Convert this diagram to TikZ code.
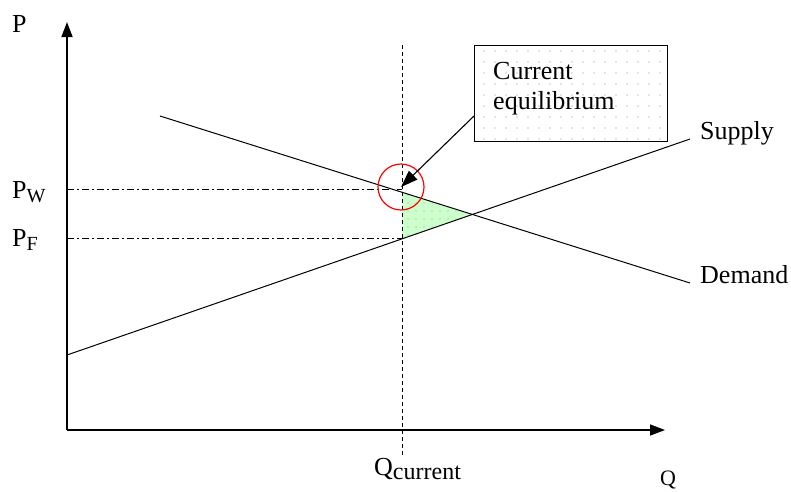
\documentclass[tikz,border=0pt]{standalone}
\usepackage{fontspec}
\setmainfont{Liberation Serif}
\newfontfamily\labfont{Liberation Serif}
\usetikzlibrary{arrows.meta}
\usetikzlibrary{patterns.meta}
\usetikzlibrary{positioning}
\definecolor{lightgreen}{RGB}{204,255,204}
\definecolor{eqred}{RGB}{255,0,0}
\tikzset{
 axis/.style={line width=1.5pt,-{Triangle[length=15pt,width=11pt]}},
 curve/.style={line width=1pt},
 guide/.style={line width=0.9pt,dash pattern=on 7pt off 3pt on 2pt off 3pt},
 lab/.style={font=\labfont\fontsize{26}{28}\selectfont,inner sep=0pt},
 pointer/.style={line width=1.1pt,-{Triangle[length=17pt,width=12pt]}},
}
\newcommand{\lowsub}[3]{\raisebox{-#1pt}{\labfont\fontsize{#2}{#2}\selectfont #3}}

\begin{document}
\begin{tikzpicture}[x=1pt,y=-1pt]
\useasboundingbox (0,0) rectangle (791,491);
% axes
\coordinate (O) at (67,430);
\coordinate (ytip) at (67,22);
\coordinate (xtip) at (665,430);
\coordinate (D1) at (160,116);
\coordinate (D2) at (690,283);
\coordinate (S1) at (67,355);
\coordinate (S2) at (690,139);
\coordinate (Qtop) at (402,45);
\coordinate (Qbot) at (402,455);
\coordinate (E) at (intersection of D1--D2 and S1--S2);
\coordinate (Dq) at (intersection of D1--D2 and Qtop--Qbot);
\coordinate (Sq) at (intersection of S1--S2 and Qtop--Qbot);

% gain triangle
\fill[lightgreen] (Dq) -- (E) -- (Sq) -- cycle;
\fill[pattern={Dots[distance=8pt,radius=0.6pt]},pattern color=green!40!black!50] (Dq) -- (E) -- (Sq) -- cycle;

\draw[axis] (O) -- (ytip);
\draw[axis] (O) -- (xtip);
\draw[line width=1pt,dash pattern=on 4pt off 3pt] (Qtop) -- (Qbot);

\coordinate (Pw0) at (67,189);
\coordinate (Pw1) at (402,189);
\coordinate (Pf0) at (67,238);
\coordinate (Pf1) at (402,238);
\draw[guide] (Pw0) -- (Pw1);
\draw[guide] (Pf0) -- (Pf1);

\draw[curve] (D1) -- (D2);
\draw[curve] (S1) -- (S2);

\node[lab,anchor=base west] (plab) at (12,32) {P};
\node[lab,anchor=base west,font=\labfont\fontsize{22}{24}\selectfont] (qlab) at (660,485) {Q};
\node[lab,anchor=base west] (pw) at (12,198) {P\lowsub{4}{20}{W}};
\node[lab,anchor=base west] (pf) at (12,246) {P\lowsub{4}{20}{F}};
\node[lab,anchor=base west] (qcur) at (374,475) {Q\lowsub{4}{24}{current}};
\node[lab,anchor=base west] (supply) at (700,139) {Supply};
\node[lab,anchor=base west] (demand) at (700,283) {Demand};

% callout
\node[draw,line width=1pt,fill=white,minimum width=193,minimum height=96,anchor=north west,inner sep=0pt] (eqbox) at (474,45) {};
\fill[pattern={Dots[distance=11pt,radius=0.7pt]},pattern color=black!45] ([shift={(3,-3)}]eqbox.south west) rectangle ([shift={(-3,3)}]eqbox.north east);
\node[lab,anchor=north west,align=left] (eqtext) at (493,62) {Current\\[2pt]equilibrium};

\node[draw=eqred,line width=1.2pt,circle,minimum size=46,inner sep=0pt] (eqcirc) at (401,187) {};
\coordinate (arrstart) at (474,116);
\draw[pointer] (arrstart) -- (eqcirc.center);
\end{tikzpicture}
\end{document}
